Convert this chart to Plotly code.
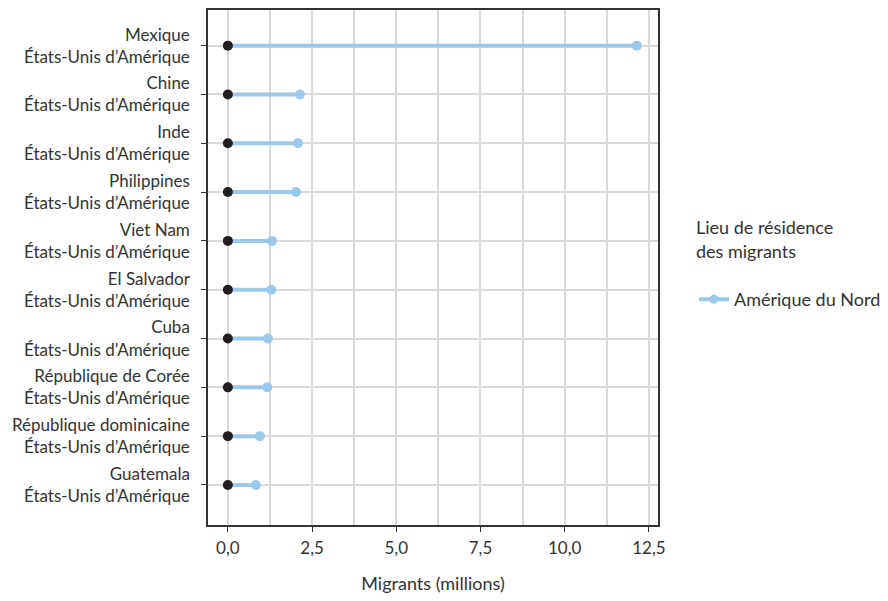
import plotly.graph_objects as go

origins = ["Mexique", "Chine", "Inde", "Philippines", "Viet Nam", "El Salvador",
           "Cuba", "République de Corée", "République dominicaine", "Guatemala"]
destinations = ["États-Unis d’Amérique"] * 10
migrants = [12.14, 2.14, 2.08, 2.02, 1.31, 1.29, 1.19, 1.17, 0.95, 0.83]
region = "Amérique du Nord"
x_ticks = [0, 2.5, 5, 7.5, 10, 12.5]
x_tick_labels = ["0,0", "2,5", "5,0", "7,5", "10,0", "12,5"]

labels = [f"{o}<br>{d}" for o, d in zip(origins, destinations)]
blue = "#9BC9EB"

fig = go.Figure()
lx, ly = [], []
for lab, v in zip(labels, migrants):
    lx += [0, v, None]
    ly += [lab, lab, None]
fig.add_trace(go.Scatter(x=lx, y=ly, mode="lines", line=dict(color=blue, width=4),
                         showlegend=False, hoverinfo="skip"))
fig.add_trace(go.Scatter(x=migrants, y=labels, mode="markers", name=region,
                         marker=dict(color=blue, size=10), showlegend=False))
fig.add_trace(go.Scatter(x=[0] * len(labels), y=labels, mode="markers",
                         marker=dict(color="#231F20", size=10), showlegend=False))
# legend entry showing line + marker
fig.add_trace(go.Scatter(x=[None], y=[None], mode="lines+markers", name=region,
                         line=dict(color=blue, width=4), marker=dict(color=blue, size=9)))

fig.update_layout(
    width=888, height=601,
    margin=dict(l=200, r=238, t=0, b=84),
    paper_bgcolor="white", plot_bgcolor="white",
    font=dict(family="Lato, Open Sans, sans-serif", size=17, color="#333333"),
    legend=dict(title=dict(text="Lieu de résidence<br>des migrants<br>", font=dict(size=18, color="#333333")),
                x=1.08, xanchor="left", y=0.61, yanchor="top",
                font=dict(size=18, color="#333333"), bgcolor="rgba(0,0,0,0)"),
)
fig.update_xaxes(range=[-0.59, 12.77], tickvals=x_ticks, ticktext=x_tick_labels,
                 showgrid=True, gridcolor="#D9D9D9", gridwidth=1.5,
                 minor=dict(dtick=1.25, tick0=0, showgrid=True, gridcolor="#D9D9D9", gridwidth=1.5),
                 zeroline=False, showline=True, linecolor="#333333", linewidth=1.5, mirror=True,
                 ticks="outside", ticklen=5, tickcolor="#333333", ticklabelstandoff=2,
                 title=dict(text="Migrants (millions)", standoff=20, font=dict(size=18)))
fig.update_yaxes(type="category", categoryorder="array", categoryarray=labels,
                 range=[9.82, -0.73],
                 showgrid=True, gridcolor="#D9D9D9", gridwidth=1.5,
                 zeroline=False, showline=True, linecolor="#333333", linewidth=1.5, mirror=True,
                 ticks="outside", ticklen=5, tickcolor="#333333", ticklabelstandoff=8)

fig.write_html("out.html")
